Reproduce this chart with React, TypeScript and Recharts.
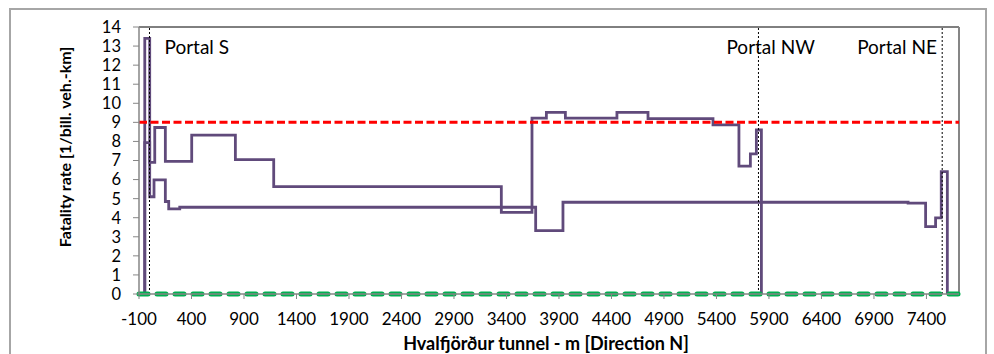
import {
    LineChart,
    Line,
    XAxis,
    YAxis,
    ReferenceLine,
} from 'recharts';

// tunnel chainage [m] and fatality rate, stepwise
const upperX = [-45, -45, 2, 50, 151, 402, 818, 1183, 3351, 3643, 3780, 3961, 4452, 4748, 5367, 5614, 5723, 5780, 5828];
const upperY = [0, 13.4, 6.9, 8.73, 6.95, 8.33, 7.05, 5.63, 4.28, 9.22, 9.52, 9.22, 9.52, 9.2, 8.87, 6.7, 7.35, 8.6, 0];

const lowerX = [-45, -45, 2, 43, 151, 183, 288, 3678, 3938, 7225, 7392, 7487, 7541, 7599];
const lowerY = [0, 7.94, 5.1, 5.98, 4.85, 4.46, 4.55, 3.32, 4.81, 4.76, 3.53, 3.99, 6.42, 0];

const xTicks = [-100, 400, 900, 1400, 1900, 2400, 2900, 3400, 3900, 4400, 4900, 5400, 5900, 6400, 6900, 7400];
const yTicks = [0, 1, 2, 3, 4, 5, 6, 7, 8, 9, 10, 11, 12, 13, 14];

const portals = [
    { name: 'Portal S', x: 0 },
    { name: 'Portal NW', x: 5800 },
    { name: 'Portal NE', x: 7550 },
];
const limitRate = 9;
const xMax = 7710;

const upper = upperX.map((x, i) => ({ x, y: upperY[i] }));
const lower = lowerX.map((x, i) => ({ x, y: lowerY[i] }));

const font = 'Lato, "Open Sans", sans-serif';
const purple = '#604a7b';
const axisGrey = '#868686';

// text offset of each portal label from its dotted line
const labelDx = [15, -32, -85];

const App = () => {
    return (
        <div style={{ position: 'absolute', left: 0, top: 0, width: 994, height: 354, overflow: 'hidden', background: '#fff' }}>
            <div
                style={{
                    position: 'absolute',
                    left: 9,
                    top: 8,
                    width: 978,
                    height: 400,
                    border: '2px solid #a6a6a6',
                    boxSizing: 'border-box',
                }}
            />
            <LineChart
                width={994}
                height={354}
                margin={{ top: 27, right: 35, left: 0, bottom: 0 }}
                style={{ position: 'absolute', left: 0, top: 0, fontFamily: font }}
            >
                <XAxis
                    dataKey="x"
                    type="number"
                    domain={[-100, xMax]}
                    ticks={xTicks}
                    interval={0}
                    allowDataOverflow
                    height={60}
                    tickSize={5}
                    tickMargin={14}
                    axisLine={{ stroke: axisGrey, strokeWidth: 1.5 }}
                    tickLine={{ stroke: axisGrey }}
                    tick={{ fill: '#000', fontSize: 17, fontFamily: font }}
                    label={(p: any) => (
                        <text
                            x={546}
                            y={350}
                            textAnchor="middle"
                            fontFamily={font}
                            fontWeight="bold"
                            fontSize={18}
                            fill="#000"
                        >
                            Hvalfjörður tunnel - m [Direction N]
                        </text>
                    )}
                />
                <YAxis
                    type="number"
                    domain={[0, 14]}
                    ticks={yTicks}
                    interval={0}
                    width={139}
                    tickSize={6}
                    tickMargin={12}
                    axisLine={{ stroke: axisGrey, strokeWidth: 1.5 }}
                    tickLine={{ stroke: axisGrey }}
                    tick={{ fill: '#000', fontSize: 16.5, fontFamily: font }}
                    label={(p: any) => (
                        <text
                            x={64}
                            y={147}
                            transform="rotate(-90, 64, 147)"
                            textAnchor="middle"
                            dominantBaseline="central"
                            fontFamily={font}
                            fontWeight="bold"
                            fontSize={16}
                            fill="#000"
                        >
                            Fatality rate [1/bill. veh.-km]
                        </text>
                    )}
                />
                <ReferenceLine y={14} stroke="#000" strokeWidth={1} />
                <ReferenceLine x={xMax} stroke={axisGrey} strokeWidth={2} />
                <Line
                    data={upper}
                    dataKey="y"
                    type="stepAfter"
                    stroke={purple}
                    strokeWidth={2.8}
                    dot={false}
                    activeDot={false}
                    isAnimationActive={false}
                />
                <Line
                    data={lower}
                    dataKey="y"
                    type="stepAfter"
                    stroke={purple}
                    strokeWidth={2.8}
                    dot={false}
                    activeDot={false}
                    isAnimationActive={false}
                />
                <ReferenceLine y={limitRate} stroke="#ff0000" strokeWidth={3} strokeDasharray="8 3.5" />
                {portals.map((pt, i) => (
                    <ReferenceLine
                        key={pt.name}
                        x={pt.x}
                        stroke="#000"
                        strokeWidth={1}
                        strokeDasharray="2 2"
                        label={(p: any) => (
                            <text
                                x={p.viewBox.x + labelDx[i]}
                                y={54}
                                fontFamily={font}
                                fontSize={19}
                                fill="#000"
                            >
                                {pt.name}
                            </text>
                        )}
                    />
                ))}
                <ReferenceLine
                    y={0}
                    stroke="#00b050"
                    strokeWidth={5}
                    strokeDasharray="9 9"
                    strokeLinecap="round"
                />
            </LineChart>
        </div>
    );
};

export default App;
